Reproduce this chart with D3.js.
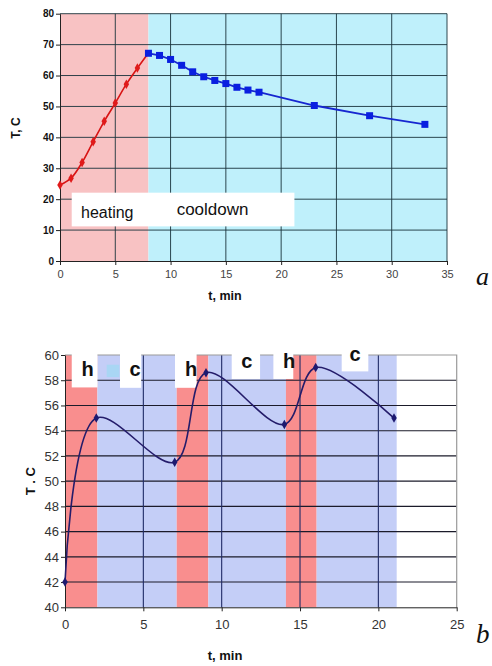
<!DOCTYPE html>
<html>
<head>
<meta charset="utf-8">
<script src="https://cdn.jsdelivr.net/npm/d3@7"></script>
<style>
  body { margin: 0; background: #fff; }
  svg { display: block; font-family: Arial, "Liberation Sans", sans-serif; }
</style>
</head>
<body>
<svg id="chart" width="492" height="666"></svg>
<script>
// ---- Panel a: one heating run followed by a long cooldown ----
const heatTime = [0, 1, 2, 3, 4, 5, 6, 7, 8];
const heatTemp = [24.6, 26.8, 31.9, 38.6, 45.2, 51.1, 57.2, 62.4, 67.3];
const coolTime = [8, 9, 10, 11, 12, 13, 14, 15, 16, 17, 18, 23, 28, 33];
const coolTemp = [67.2, 66.5, 65.2, 63.3, 61.2, 59.6, 58.4, 57.4, 56.2, 55.3, 54.6, 50.3, 47.0, 44.2];
const phaseNamesA = ["heating", "cooldown"];
const phaseStartA = [0, 8];
const phaseEndA = [8, 35];
const xTicksA = [0, 5, 10, 15, 20, 25, 30, 35];
const yTicksA = [0, 10, 20, 30, 40, 50, 60, 70, 80];

// ---- Panel b: alternating heat (h) / cool (c) cycles ----
const cycleTime = [0, 2, 7, 9, 14, 16, 21];
const cycleTemp = [42, 55, 51.5, 58.6, 54.5, 59, 55];
const bandKind = ["h", "c", "h", "c", "h", "c"];
const bandStart = [0, 2.07, 7.13, 9.15, 14.1, 16.06];
const bandEnd = [2.07, 7.13, 9.15, 14.1, 16.06, 21.17];
const xTicksB = [0, 5, 10, 15, 20, 25];
const yTicksB = [40, 42, 44, 46, 48, 50, 52, 54, 56, 58, 60];

const SANS = "Arial, 'Liberation Sans', sans-serif";
const NARROW = "'Liberation Sans Narrow', 'Arial Narrow', Arial, sans-serif";
const SERIF = "'Liberation Serif', 'Times New Roman', 'DejaVu Serif', serif";

const svg = d3.select("#chart");

// ================= Panel a =================
const xA = d3.scaleLinear().domain([0, 35]).range([60, 447]);
const yA = d3.scaleLinear().domain([0, 80]).range([261, 13.7]);
const gA = svg.append("g");

const phaseFill = { heating: "#f8c2c3", cooldown: "#bff0fb" };
gA.selectAll("rect.phase").data(phaseNamesA).join("rect")
  .attr("class", "phase")
  .attr("x", (d, i) => xA(phaseStartA[i]))
  .attr("width", (d, i) => xA(phaseEndA[i]) - xA(phaseStartA[i]))
  .attr("y", yA(80)).attr("height", yA(0) - yA(80))
  .attr("fill", d => phaseFill[d]);

// grid
gA.selectAll("line.hg").data(yTicksA.filter(v => v > 0)).join("line")
  .attr("x1", xA(0)).attr("x2", xA(35))
  .attr("y1", d => yA(d)).attr("y2", d => yA(d))
  .attr("stroke", "#1a333c").attr("stroke-opacity", 0.9).attr("stroke-width", 1);
gA.selectAll("line.vg").data(xTicksA.filter(v => v > 0)).join("line")
  .attr("y1", yA(0)).attr("y2", yA(80))
  .attr("x1", d => xA(d)).attr("x2", d => xA(d))
  .attr("stroke", "#1a333c").attr("stroke-opacity", 0.9).attr("stroke-width", 1);

// phase label box
gA.append("rect")
  .attr("x", xA(1.06)).attr("width", xA(21.2) - xA(1.06))
  .attr("y", yA(22.1)).attr("height", yA(11.2) - yA(22.1))
  .attr("fill", "#fff");
gA.append("text").attr("x", xA(1.9)).attr("y", yA(13.75))
  .attr("font-size", 16).attr("fill", "#111").text(phaseNamesA[0]);
gA.append("text").attr("x", xA(10.55)).attr("y", yA(14.9))
  .attr("font-size", 17).attr("fill", "#111").text(phaseNamesA[1]);

// axes
const axA_y = gA.append("g").attr("transform", `translate(${xA(0)},0)`)
  .call(d3.axisLeft(yA).tickValues(yTicksA).tickSize(4).tickSizeOuter(0));
axA_y.select(".domain").attr("stroke", "#222");
axA_y.selectAll(".tick line").attr("stroke", "#222");
axA_y.selectAll(".tick text").style("font-family", SANS)
  .attr("font-size", 10).attr("font-weight", "bold").attr("fill", "#111").attr("x", -6);

const axA_x = gA.append("g").attr("transform", `translate(0,${yA(0)})`)
  .call(d3.axisBottom(xA).tickValues(xTicksA).tickSize(4).tickSizeOuter(0));
axA_x.select(".domain").attr("stroke", "#222");
axA_x.selectAll(".tick line").attr("stroke", "#222");
axA_x.selectAll(".tick text").style("font-family", SANS)
  .attr("font-size", 11).attr("fill", "#444").attr("dy", "0.95em");

// series
const heatPts = heatTime.map((t, i) => [t, heatTemp[i]]);
const coolPts = coolTime.map((t, i) => [t, coolTemp[i]]);
gA.append("path").datum(heatPts)
  .attr("d", d3.line().x(d => xA(d[0])).y(d => yA(d[1])).curve(d3.curveCatmullRom.alpha(0.5)))
  .attr("fill", "none").attr("stroke", "#d81414").attr("stroke-width", 1.6);
gA.selectAll("path.hm").data(heatPts.slice(0, -1)).join("path")
  .attr("transform", d => `translate(${xA(d[0])},${yA(d[1])})`)
  .attr("d", d3.symbol(d3.symbolDiamond, 26)).attr("fill", "#e01a1a");
gA.append("path").datum(coolPts)
  .attr("d", d3.line().x(d => xA(d[0])).y(d => yA(d[1])))
  .attr("fill", "none").attr("stroke", "#1626d0").attr("stroke-width", 1.8);
gA.selectAll("rect.cm").data(coolPts).join("rect")
  .attr("x", d => xA(d[0]) - 3.5).attr("y", d => yA(d[1]) - 3.5)
  .attr("width", 7).attr("height", 7).attr("fill", "#0a1fe0");

// titles
gA.append("text").attr("transform", `translate(20,${yA(43)}) rotate(-90)`)
  .attr("text-anchor", "middle").attr("font-size", 12).attr("font-weight", "bold")
  .attr("fill", "#111").text("T, C");
gA.append("text").attr("x", 225).attr("y", 300).attr("text-anchor", "middle")
  .attr("font-size", 12.5).attr("font-weight", "bold").attr("fill", "#111").text("t, min");
gA.append("text").attr("x", 476).attr("y", 285).style("font-family", SERIF)
  .attr("font-style", "italic").attr("font-size", 26).attr("fill", "#111").text("a");

// ================= Panel b =================
const xB = d3.scaleLinear().domain([0, 25]).range([65, 456.7]);
const yB = d3.scaleLinear().domain([40, 60]).range([607.3, 355]);
const gB = svg.append("g");

const bandFill = { h: "#f98e8e", c: "#c4cef7" };
gB.selectAll("rect.band").data(bandKind).join("rect")
  .attr("x", (d, i) => xB(bandStart[i]))
  .attr("width", (d, i) => xB(bandEnd[i]) - xB(bandStart[i]))
  .attr("y", yB(60)).attr("height", yB(40) - yB(60))
  .attr("fill", d => bandFill[d]);

// grid + frame
gB.selectAll("line.hg").data(yTicksB.filter(v => v > 40 && v < 60)).join("line")
  .attr("x1", xB(0)).attr("x2", xB(25))
  .attr("y1", d => yB(d)).attr("y2", d => yB(d))
  .attr("stroke", "#1b1b2a").attr("stroke-width", 1.1);
gB.selectAll("line.vg").data(xTicksB.filter(v => v > 0 && v < 25)).join("line")
  .attr("y1", yB(40)).attr("y2", yB(60))
  .attr("x1", d => xB(d)).attr("x2", d => xB(d))
  .attr("stroke", "#1f2a66").attr("stroke-width", 1.1);
gB.append("path")
  .attr("d", `M${xB(0)},${yB(60)}H${xB(25)}V${yB(40)}`)
  .attr("fill", "none").attr("stroke", "#9a9a9a").attr("stroke-width", 1.2);

// cycle labels on white tags
const tagStart = [0.43, 3.51, 7.02, 10.64, 13.3, 17.66];
const tagEnd = [2.07, 4.86, 8.4, 12.45, 14.57, 19.36];
const tagBottom = [57.43, 57.4, 57.4, 58.1, 58.1, 58.7];
const tagTextX = [1.44, 4.47, 8.05, 11.6, 14.31, 18.51];
const tagTextY = [58.33, 58.33, 58.33, 58.97, 58.97, 59.49];
gB.selectAll("rect.tag").data(bandKind).join("rect")
  .attr("x", (d, i) => xB(tagStart[i]))
  .attr("width", (d, i) => xB(tagEnd[i]) - xB(tagStart[i]))
  .attr("y", yB(60) - 2)
  .attr("height", (d, i) => yB(tagBottom[i]) - yB(60) + 2)
  .attr("fill", "#fff");
gB.append("rect")
  .attr("x", xB(2.66)).attr("width", xB(3.47) - xB(2.66))
  .attr("y", yB(59.23)).attr("height", yB(58.25) - yB(59.23))
  .attr("fill", "#a9d6f4");
gB.selectAll("text.tag").data(bandKind).join("text")
  .attr("x", (d, i) => xB(tagTextX[i])).attr("y", (d, i) => yB(tagTextY[i]))
  .attr("text-anchor", "middle").attr("font-size", 20).attr("font-weight", "bold")
  .attr("fill", "#111").text(d => d);

// axes
const axB_y = gB.append("g").attr("transform", `translate(${xB(0)},0)`)
  .call(d3.axisLeft(yB).tickValues(yTicksB).tickSize(4).tickSizeOuter(0));
axB_y.select(".domain").attr("stroke", "#222");
axB_y.selectAll(".tick line").attr("stroke", "#222");
axB_y.selectAll(".tick text").style("font-family", NARROW)
  .attr("font-size", 13).attr("fill", "#333").attr("x", -6);

const axB_x = gB.append("g").attr("transform", `translate(0,${yB(40)})`)
  .call(d3.axisBottom(xB).tickValues(xTicksB).tickSize(4).tickSizeOuter(0));
axB_x.select(".domain").attr("stroke", "#222");
axB_x.selectAll(".tick line").attr("stroke", "#222");
axB_x.selectAll(".tick text").style("font-family", NARROW)
  .attr("font-size", 13).attr("fill", "#333").attr("dy", "1.15em");

// smoothed temperature curve
const cyclePts = cycleTime.map((t, i) => [t, cycleTemp[i]]);
gB.append("path").datum(cyclePts)
  .attr("d", d3.line().x(d => xB(d[0])).y(d => yB(d[1])).curve(d3.curveCatmullRom.alpha(0.5)))
  .attr("fill", "none").attr("stroke", "#241c6a").attr("stroke-width", 1.6);
gB.selectAll("path.m").data(cyclePts).join("path")
  .attr("transform", d => `translate(${xB(d[0])},${yB(d[1])})`)
  .attr("d", d3.symbol(d3.symbolDiamond, 26)).attr("fill", "#1d1a70");

// titles
gB.append("text").attr("transform", `translate(35,${yB(50)}) rotate(-90)`)
  .attr("text-anchor", "middle").attr("font-size", 13).attr("font-weight", "bold")
  .attr("fill", "#111").text("T . C");
gB.append("text").attr("x", 225).attr("y", 660).attr("text-anchor", "middle")
  .attr("font-size", 13).attr("font-weight", "bold").attr("fill", "#111").text("t, min");
gB.append("text").attr("x", 476).attr("y", 643).style("font-family", SERIF)
  .attr("font-style", "italic").attr("font-size", 27).attr("fill", "#111").text("b");
</script>
</body>
</html>
